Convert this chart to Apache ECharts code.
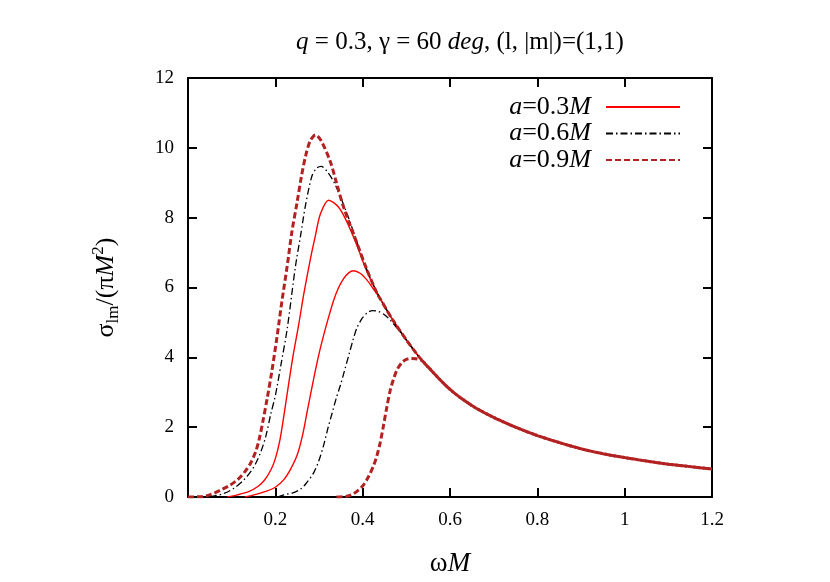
<!DOCTYPE html>
<html>
<head>
<meta charset="utf-8">
<script src="https://cdn.jsdelivr.net/npm/echarts@6/dist/echarts.min.js"></script>
<style>html,body{margin:0;padding:0;background:#fff}#c{width:830px;height:582px}</style>
</head>
<body>
<div id="c"></div>
<script>
// ---- data ----
const legendNames = ['a=0.3M', 'a=0.6M', 'a=0.9M'];
const xTicks = [0, 0.2, 0.4, 0.6, 0.8, 1.0, 1.2];
const yTicks = [0, 2, 4, 6, 8, 10, 12];

// common high-frequency tail shared by all curves
const tailMid = [[0.44,5.68],[0.47,5.05],[0.5,4.5],[0.53,4.0]];
const tailEnd = [[0.55,3.72],[0.6,3.08],[0.65,2.62],[0.7,2.28],[0.75,2.0],[0.8,1.76],[0.85,1.56],[0.9,1.38],[0.95,1.24],[1.0,1.13],[1.05,1.03],[1.1,0.94],[1.15,0.87],[1.2,0.80]];

const a03Upper = [[0.09,0],[0.113,0.06],[0.14,0.16],[0.16,0.3],[0.175,0.48],[0.19,0.78],[0.2,1.1],[0.21,1.6],[0.218,2.2],[0.227,2.95],[0.24,4.0],[0.253,4.9],[0.265,5.8],[0.28,6.8],[0.292,7.5],[0.303,8.1],[0.322,8.5],[0.345,8.3],[0.365,7.85],[0.387,7.2],[0.41,6.45]];
const a03Lower = [[0.13,0],[0.151,0.06],[0.18,0.17],[0.2,0.28],[0.219,0.49],[0.235,0.8],[0.25,1.2],[0.262,1.75],[0.273,2.45],[0.288,3.4],[0.3,4.1],[0.311,4.65],[0.322,5.15],[0.334,5.65],[0.345,6.0],[0.356,6.25],[0.368,6.42],[0.379,6.48],[0.395,6.4],[0.41,6.21],[0.425,5.95]];
const a06Upper = [[0.05,0],[0.082,0.1],[0.105,0.25],[0.128,0.49],[0.145,0.75],[0.155,0.96],[0.167,1.3],[0.178,1.73],[0.19,2.4],[0.2,2.9],[0.213,3.8],[0.227,4.8],[0.246,6.6],[0.258,7.5],[0.269,8.35],[0.284,9.2],[0.295,9.42],[0.305,9.47],[0.32,9.3],[0.337,8.95],[0.364,8.12],[0.387,7.3],[0.41,6.5]];
const a06Lower = [[0.205,0],[0.22,0.06],[0.24,0.12],[0.257,0.22],[0.27,0.38],[0.288,0.7],[0.3,1.05],[0.311,1.5],[0.32,1.95],[0.33,2.4],[0.34,2.85],[0.349,3.2],[0.358,3.6],[0.368,4.05],[0.378,4.5],[0.387,4.85],[0.399,5.12],[0.41,5.27],[0.422,5.34],[0.435,5.32],[0.45,5.22],[0.463,5.07],[0.486,4.73],[0.5,4.5]];
const a09Upper = [[0.0,0],[0.03,0.01],[0.05,0.06],[0.075,0.2],[0.095,0.33],[0.113,0.49],[0.13,0.72],[0.143,0.96],[0.155,1.3],[0.163,1.65],[0.172,2.2],[0.181,2.8],[0.192,3.6],[0.204,4.6],[0.215,5.6],[0.227,6.6],[0.238,7.6],[0.25,8.45],[0.26,9.2],[0.27,9.8],[0.28,10.2],[0.292,10.37],[0.305,10.2],[0.326,9.6],[0.34,9.0],[0.356,8.31],[0.387,7.27],[0.41,6.5],[0.433,5.83]];
const a09Lower = [[0.34,0],[0.364,0.02],[0.38,0.1],[0.399,0.3],[0.412,0.55],[0.425,0.9],[0.433,1.2],[0.44,1.55],[0.447,2.0],[0.455,2.55],[0.463,3.05],[0.47,3.35],[0.479,3.65],[0.49,3.85],[0.5,3.94],[0.51,3.97],[0.522,3.96],[0.536,3.9]];

// ---- build ----
function withTail(arr) {
  const last = arr[arr.length - 1][0];
  return arr.concat(tailMid.filter(p => p[0] > last + 0.005), tailEnd.filter(p => p[0] > last + 0.005));
}
const serif = 'Liberation Serif, Times New Roman, serif';
const styles = [
  { color: '#ff0000', width: 1.4, type: 'solid' },
  { color: '#000000', width: 1.3, type: [7, 3, 1.5, 3] },
  { color: '#b22222', width: 3, type: [6, 3] }
];
const curves = [
  [0, a03Upper], [0, a03Lower],
  [1, a06Upper], [1, a06Lower],
  [2, a09Upper], [2, a09Lower]
];
const series = curves.map(([k, arr]) => ({
  name: legendNames[k],
  type: 'line',
  data: withTail(arr),
  showSymbol: false,
  symbol: 'none',
  smooth: 0.3,
  z: 2 + k,
  color: styles[k].color,
  lineStyle: { color: styles[k].color, width: styles[k].width, type: styles[k].type },
  animation: false
}));
// empty series bound to the mirror axes so they are laid out
series.push({ type: 'line', xAxisIndex: 1, yAxisIndex: 1, data: [], symbol: 'none', silent: true });

const tickStyle = () => ({ color: '#000', width: 2 });
const chart = echarts.init(document.getElementById('c'), null, { renderer: 'canvas' });
chart.setOption({
  backgroundColor: '#fff',
  animation: false,
  title: {
    text: '{i|q} = 0.3, γ = 60 {i|deg}, (l, |m|)=(1,1)',
    left: 455, top: 25, textAlign: 'center',
    textStyle: {
      fontFamily: serif, fontSize: 25, fontWeight: 'normal', color: '#000',
      rich: { i: { fontFamily: serif, fontSize: 25, fontStyle: 'italic', color: '#000' } }
    }
  },
  legend: {
    data: legendNames,
    orient: 'vertical',
    right: 144, top: 89,
    align: 'right',
    itemWidth: 74, itemHeight: 14, itemGap: 0.5,
    itemStyle: { opacity: 0, borderWidth: 0 },
    formatter: function (name) {
      const v = name.substring(2, 5);
      return '{i|a}{n|=' + v + '}{i|M}';
    },
    textStyle: {
      fontFamily: serif, fontSize: 26, color: '#000', padding: [0, 10, 0, 0], lineHeight: 25,
      rich: {
        i: { fontFamily: serif, fontSize: 26, fontStyle: 'italic', color: '#000', lineHeight: 25 },
        n: { fontFamily: serif, fontSize: 26, color: '#000', lineHeight: 25 }
      }
    }
  },
  grid: { left: 188, right: 118, top: 78, bottom: 85, containLabel: false },
  xAxis: [{
    type: 'value', min: 0, max: 1.2, interval: 0.2,
    name: '{n|ω}{i|M}', nameLocation: 'middle', nameGap: 53,
    nameTextStyle: { fontFamily: serif, fontSize: 27, color: '#000',
      rich: { n: { fontFamily: serif, fontSize: 27 }, i: { fontFamily: serif, fontSize: 27, fontStyle: 'italic' } } },
    axisLine: { show: true, onZero: false, lineStyle: tickStyle() },
    axisTick: { show: true, inside: true, length: 9, lineStyle: tickStyle() },
    splitLine: { show: false },
    axisLabel: { fontFamily: serif, fontSize: 19, color: '#000', margin: 14,
      formatter: v => (v === 0 ? '' : String(+v.toFixed(1))) }
  }, {
    type: 'value', min: 0, max: 1.2, interval: 0.2, position: 'top',
    axisLine: { show: true, onZero: false, lineStyle: tickStyle() },
    axisTick: { show: true, inside: true, length: 9, lineStyle: tickStyle() },
    axisLabel: { show: false }, splitLine: { show: false }
  }],
  yAxis: [{
    type: 'value', min: 0, max: 12, interval: 2,
    name: '{n|σ}{sub|lm}{n|/(π}{i|M}{sup|2}{n|)}', nameLocation: 'middle', nameGap: 66, nameRotate: 90,
    nameTextStyle: { fontFamily: serif, fontSize: 26, color: '#000',
      rich: {
        n: { fontFamily: serif, fontSize: 26, lineHeight: 32 },
        i: { fontFamily: serif, fontSize: 26, fontStyle: 'italic', lineHeight: 32 },
        sub: { fontFamily: serif, fontSize: 17, lineHeight: 17, verticalAlign: 'bottom' },
        sup: { fontFamily: serif, fontSize: 17, lineHeight: 17, verticalAlign: 'top' }
      } },
    axisLine: { show: true, onZero: false, lineStyle: tickStyle() },
    axisTick: { show: true, inside: true, length: 9, lineStyle: tickStyle() },
    splitLine: { show: false },
    axisLabel: { fontFamily: serif, fontSize: 19, color: '#000', margin: 14 }
  }, {
    type: 'value', min: 0, max: 12, interval: 2, position: 'right',
    axisLine: { show: true, onZero: false, lineStyle: tickStyle() },
    axisTick: { show: true, inside: true, length: 9, lineStyle: tickStyle() },
    axisLabel: { show: false }, splitLine: { show: false }
  }],
  series: series
});
</script>
</body>
</html>
